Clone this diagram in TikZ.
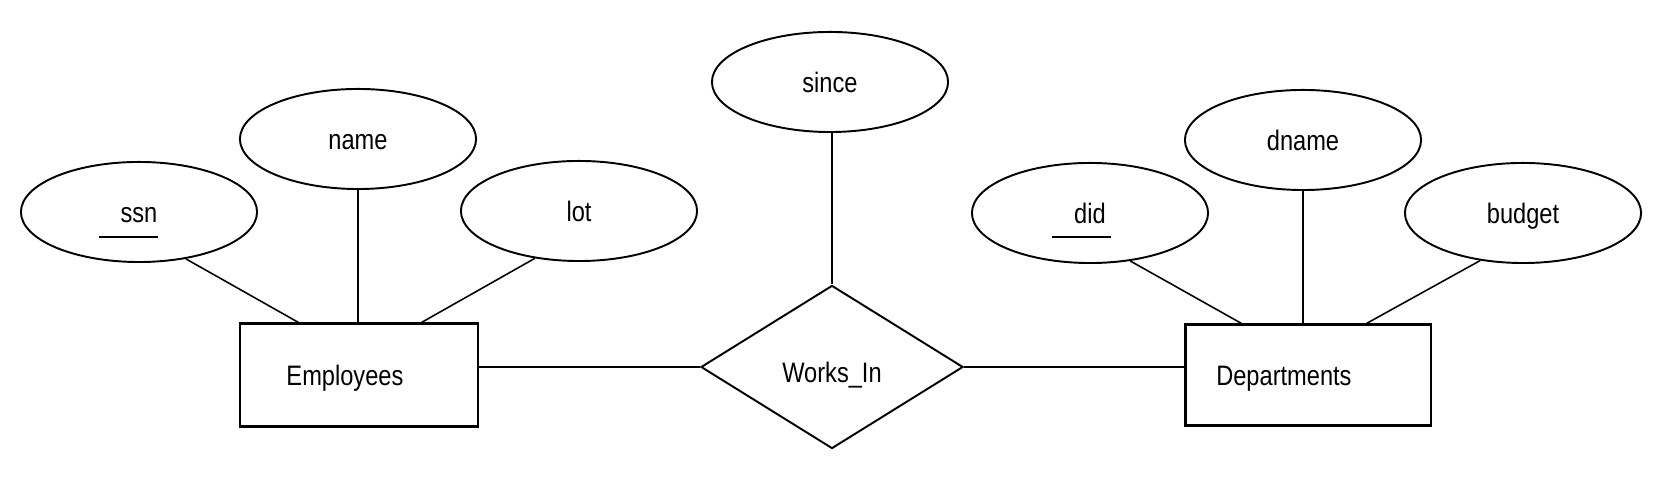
\documentclass[tikz,border=0pt]{standalone}
\usepackage{fontspec}
\setmainfont{Liberation Sans}[FakeStretch=0.84]
\usetikzlibrary{shapes.geometric,calc}
\begin{document}
\begin{tikzpicture}[x=0.01cm,y=-0.01cm,
  every node/.style={font=\fontsize{8pt}{9.6pt}\selectfont,text height=5.7pt,text depth=0pt},
  attr/.style={ellipse,draw,line width=0.55pt,minimum width=2.36cm,minimum height=1cm,inner sep=0pt},
  ent/.style={rectangle,draw,line width=0.6pt,inner sep=0pt},
  rel/.style={diamond,draw,line width=0.55pt,minimum width=2.62cm,minimum height=1.63cm,inner sep=0pt,text height=9.1pt},
  conn/.style={line width=0.45pt},
  keyline/.style={line width=0.5pt}]
\useasboundingbox (0,0) rectangle (1676,492);
% attributes
\node[attr] (ssn) at (139,212) {ssn};
\node[attr] (name) at (358,139) {name};
\node[attr] (lot) at (579,211) {lot};
\node[attr] (since) at (830,82) {since};
\node[attr] (did) at (1090,213) {did};
\node[attr] (dname) at (1303,140) {dname};
\node[attr] (budget) at (1523,213) {budget};
% entities and relationship
\node[ent,minimum width=2.37cm,minimum height=1.03cm] (emp) at (359,375) {Employees\kern8pt};
\node[ent,minimum width=2.45cm,minimum height=1.01cm] (dept) at (1308,375) {Departments\kern13.7pt};
\node[rel] (wi) at (832,367) {Works\_In};
% key underlines
\draw[keyline] ($(ssn.center)+(-40,25)$) -- ++(59,0);
\draw[keyline] ($(did.center)+(-38,24)$) -- ++(59,0);
% connectors
\draw[conn] (ssn.-45) -- ($(emp.north west)+(59,0)$);
\draw[conn] (name.south) -- (name.south |- emp.north);
\draw[conn] (lot.-133) -- ($(emp.north east)+(-57,0)$);
\draw[conn] (wi.north |- since.south) -- (wi.north);
\draw[conn] (emp.east |- wi.west) -- (wi.west);
\draw[conn] (wi.east) -- (wi.east -| dept.west);
\draw[conn] (did.-50) -- ($(dept.north west)+(57,0)$);
\draw[conn] (dname.south) -- (dname.south |- dept.north);
\draw[conn] (budget.-132) -- ($(dept.north east)+(-65,0)$);
\end{tikzpicture}
\end{document}
